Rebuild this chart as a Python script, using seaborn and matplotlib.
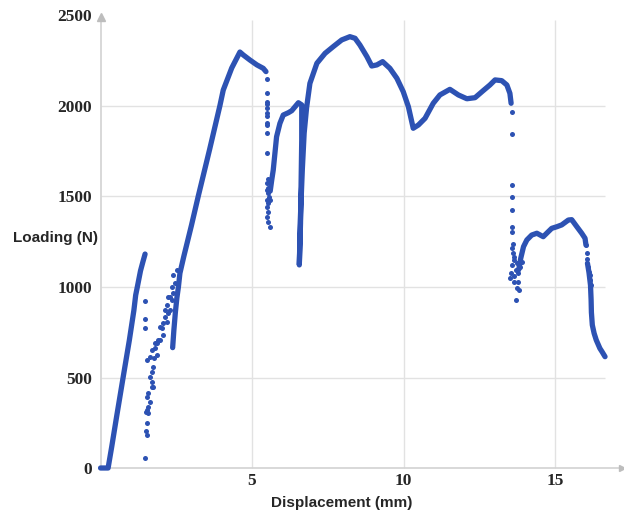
import pandas as pd
import numpy as np
import matplotlib
matplotlib.use("Agg")
import matplotlib.pyplot as plt
import seaborn as sns

# Dense (continuous) parts of the load-displacement record
rise1_disp = [0.0, 0.12, 0.25, 0.37, 0.53, 0.75, 0.95, 1.1, 1.16, 1.22, 1.32, 1.4, 1.47]
rise1_load = [0, 0, 0, 118, 283, 505, 705, 870, 955, 1005, 1090, 1140, 1182]

rise2_disp = [2.38, 2.42, 2.47, 2.52, 2.57, 2.62, 2.75, 3.0, 3.23, 3.6, 3.94, 4.05,
              4.33, 4.6, 4.71, 4.93, 5.16, 5.37, 5.46]
rise2_load = [665, 760, 860, 940, 1000, 1076, 1170, 1340, 1505, 1760, 2002, 2088,
              2210, 2298, 2282, 2254, 2227, 2208, 2190]

rise3_disp = [5.6, 5.65, 5.7, 5.81, 5.92, 6.03, 6.2, 6.31, 6.42, 6.53, 6.64, 6.64,
              6.6, 6.56, 6.6, 6.66, 6.72, 6.8, 6.91, 7.14, 7.41, 7.68, 7.96, 8.23,
              8.4, 8.56, 8.79, 8.95, 9.12, 9.31, 9.55, 9.78, 9.99, 10.16, 10.32,
              10.49, 10.71, 10.98, 11.2, 11.53, 11.81, 12.09, 12.36, 12.63, 12.85,
              13.02, 13.24, 13.41, 13.51, 13.55]
rise3_load = [1530, 1591, 1646, 1830, 1904, 1950, 1963, 1974, 1996, 2018, 2006, 1812,
              1352, 1122, 1400, 1650, 1850, 1990, 2125, 2236, 2291, 2328, 2365, 2383,
              2374, 2337, 2273, 2221, 2227, 2245, 2208, 2153, 2079, 1996, 1877,
              1895, 1932, 2015, 2061, 2092, 2061, 2040, 2046, 2085, 2116,
              2144, 2140, 2116, 2070, 2015]

rise4_disp = [13.8, 13.87, 13.96, 14.07, 14.23, 14.4, 14.61, 14.78, 14.89, 15.06,
              15.22, 15.44, 15.55, 15.72, 15.88, 15.99, 16.02]
rise4_load = [1095, 1160, 1223, 1260, 1287, 1297, 1278, 1306, 1324, 1333,
              1343, 1370, 1372, 1333, 1297, 1269, 1232]

tail_disp = [16.07, 16.12, 16.17, 16.19, 16.2, 16.23, 16.29, 16.36, 16.48, 16.56, 16.65]
tail_load = [1131, 1080, 1010, 930, 860, 790, 744, 707, 661, 640, 615]

# Sparse points (sudden drops and scattered reloading)
drop1_disp = [1.47, 1.47, 1.47, 1.47, 1.52, 1.52, 1.5, 1.49, 1.52, 1.58, 1.58, 1.63,
              1.52, 1.58, 1.69, 1.63, 1.69, 1.74, 1.52, 1.63, 1.76, 1.69, 1.8, 1.85,
              1.96, 2.07, 2.02, 2.07, 2.18, 2.13, 2.24, 2.29, 2.18, 2.35, 2.24, 2.4,
              2.35, 2.46, 2.4, 1.74, 1.85, 1.91, 1.96, 2.13, 2.29, 2.51, 1.8, 1.69]
drop1_load = [925, 823, 773, 53, 247, 182, 205, 310, 320, 302, 339, 366,
              394, 413, 449, 505, 532, 560, 597, 615, 606, 652, 661, 689,
              707, 735, 772, 799, 808, 836, 855, 873, 900, 928, 946, 965,
              1002, 1020, 1066, 448, 624, 707, 779, 873, 945, 1094, 690, 477]

drop2_disp = [5.48, 5.48, 5.48, 5.48, 5.48, 5.48, 5.48, 5.48, 5.48, 5.48, 5.5, 5.52,
              5.5, 5.53, 5.5, 5.52, 5.55, 5.5, 5.53, 5.5, 5.52, 5.5, 5.53, 5.58, 5.6]
drop2_load = [2150, 2074, 2024, 2011, 1987, 1963, 1945, 1908, 1895, 1849, 1742, 1595,
              1573, 1545, 1536, 1518, 1499, 1481, 1463, 1444, 1416, 1389, 1361, 1333, 1480]

drop3_disp = [13.57, 13.57, 13.57, 13.57, 13.57, 13.57, 13.57, 13.6, 13.57, 13.6,
              13.63, 13.54, 13.7, 13.76, 13.79, 13.85, 13.9, 13.65, 13.79, 13.74,
              13.82, 13.71, 13.63, 13.57, 13.66, 13.52]
drop3_load = [1969, 1845, 1564, 1496, 1425, 1333, 1306, 1238, 1214, 1190,
              1149, 1076, 1094, 1131, 1076, 1112, 1140, 1029, 1029, 993,
              983, 928, 1168, 1122, 1060, 1050]

drop4_disp = [16.02, 16.04, 16.04, 16.1, 16.13, 16.15, 16.17, 16.19]
drop4_load = [1232, 1186, 1153, 1112, 1085, 1067, 1039, 1011]

blue = "#2D52B3"

sns.set_theme(style="white")
plt.rcParams["font.family"] = ["Liberation Serif", "DejaVu Serif"]

fig = plt.figure(figsize=(6.24, 5.14), dpi=100)
ax = fig.add_axes([0.15625, 0.0842, 0.8425, 0.9068])
ax.set_xlim(-0.1, 17.25)
ax.set_ylim(-15, 2560)

# grid and axis lines
ax.hlines([500, 1000, 1500, 2000], 0, 16.65, color="#E2E2E2", lw=1, zorder=0)
ax.vlines([5, 10, 15], 0, 2475, color="#E2E2E2", lw=1, zorder=0)
ax.hlines(0, 0, 17.2, color="#D2D2D2", lw=1.2, zorder=0)
ax.vlines(0, 0, 2475, color="#D2D2D2", lw=1.2, zorder=0)
ax.plot([0], [2490], marker="^", color="#BDBDBD", ms=6, clip_on=False)
ax.plot([17.22], [0], marker=">", color="#BDBDBD", ms=5, clip_on=False)

segments = [(rise1_disp, rise1_load), (rise2_disp, rise2_load), (rise3_disp, rise3_load),
            (rise4_disp, rise4_load), (tail_disp, tail_load)]
rows = []
for i, (xs, ys) in enumerate(segments):
    for xv, yv in zip(xs, ys):
        rows.append({"seg": i, "disp": xv, "load": yv})
dense = pd.DataFrame(rows)

sns.lineplot(data=dense, x="disp", y="load", units="seg", estimator=None, sort=False,
             color=blue, lw=3.8, solid_capstyle="round", solid_joinstyle="round", ax=ax)

sparse = pd.DataFrame({
    "disp": drop1_disp + drop2_disp + drop3_disp + drop4_disp,
    "load": drop1_load + drop2_load + drop3_load + drop4_load,
})
sns.scatterplot(data=sparse, x="disp", y="load", color=blue, s=13, linewidth=0, ax=ax)

for s in ax.spines.values():
    s.set_visible(False)

ax.set_xticks([5, 10, 15])
ax.set_yticks([0, 500, 1000, 1500, 2000, 2500])
ax.tick_params(axis="both", length=0, labelsize=12.5)
ax.tick_params(axis="y", pad=4)
ax.tick_params(axis="x", pad=2)
for lab in ax.get_xticklabels() + ax.get_yticklabels():
    lab.set_fontweight("bold")
ax.set_xlabel("")
ax.set_ylabel("")

fig.text(13 / 624, 1 - 238 / 514, "Loading (N)", ha="left", va="center",
         fontsize=11, fontweight="bold", family=["Liberation Sans", "DejaVu Sans"])
fig.text(341.5 / 624, 1 - 503 / 514, "Displacement (mm)", ha="center", va="center",
         fontsize=11, fontweight="bold", family=["Liberation Sans", "DejaVu Sans"])

fig.savefig("out.png", dpi=100)
